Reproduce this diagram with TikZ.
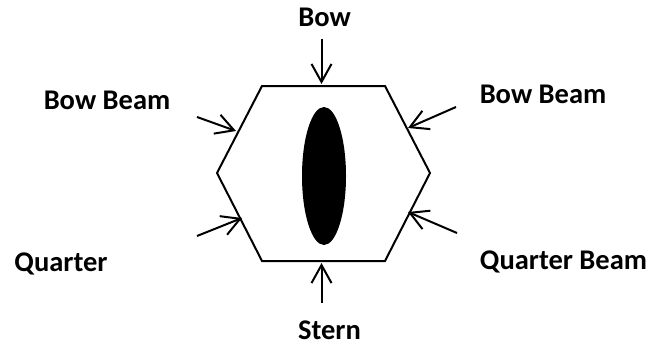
\documentclass[tikz,border=0pt]{standalone}
\usepackage{fontspec}
\setmainfont{Carlito}
\usetikzlibrary{arrows.meta}
\begin{document}
\begin{tikzpicture}[x=1pt,y=-1pt,
  lbl/.style={font=\fontsize{28.5}{32}\selectfont\bfseries, inner sep=0pt, anchor=base},
  hull/.style={line width=2pt, line join=miter},
  force/.style={line width=2pt, -{Straight Barb[length=18pt,width=20pt,line width=2pt]}}]
\useasboundingbox (0,0) rectangle (650,345);
\draw[hull] (262,86) -- (385,86) -- (430,173) -- (385,261) -- (262,261) -- (217,173) -- cycle;
\fill (324,176) ellipse [x radius=22, y radius=69];
% labels
\node[lbl] (bow) at (324.5,27) {Bow};
\node[lbl] (bbl) at (107,109.5) {Bow Beam};
\node[lbl] (bbr) at (543,103.5) {Bow Beam};
\node[lbl] (qtr) at (61,271.5) {Quarter};
\node[lbl] (qb) at (563.5,269.5) {Quarter Beam};
\node[lbl] (stern) at (329.5,339.5) {Stern};
% arrows
\coordinate (a1s) at (321.5,39);  \coordinate (a1e) at (321.5,84);
\coordinate (a2s) at (321.5,303); \coordinate (a2e) at (321.5,263);
\coordinate (a3s) at (197,117);   \coordinate (a3e) at (236,131);
\coordinate (a4s) at (456,107);   \coordinate (a4e) at (408,128);
\coordinate (a5s) at (197,236);   \coordinate (a5e) at (242,218);
\coordinate (a6s) at (457,233);   \coordinate (a6e) at (408,212);
\draw[force] (a1s) -- (a1e);
\draw[force] (a2s) -- (a2e);
\draw[force] (a3s) -- (a3e);
\draw[force] (a4s) -- (a4e);
\draw[force] (a5s) -- (a5e);
\draw[force] (a6s) -- (a6e);
\end{tikzpicture}
\end{document}
